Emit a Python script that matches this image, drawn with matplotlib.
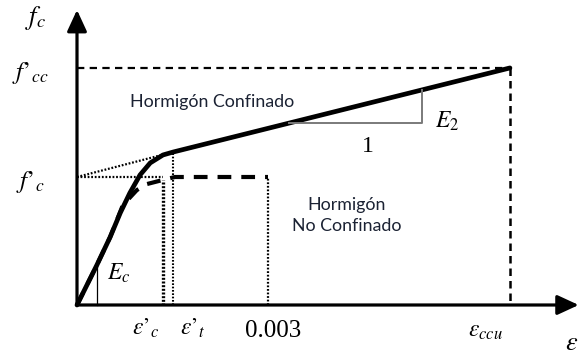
import matplotlib
matplotlib.use("Agg")
import matplotlib.pyplot as plt

plt.rcParams['mathtext.fontset'] = 'stix'

# ---- data (strain, stress normalised to f'c) ----
strain_conf = [0, 0.00031, 0.00052, 0.00068, 0.00083, 0.00099, 0.00115, 0.00135, 0.00151, 0.0068]
stress_conf = [0, 0.31, 0.53, 0.72, 0.875, 1.016, 1.11, 1.172, 1.195, 1.852]

strain_unconf = [0, 0.00031, 0.00052, 0.00072, 0.00094, 0.0011, 0.00135, 0.00154, 0.003]
stress_unconf = [0, 0.31, 0.53, 0.78, 0.898, 0.945, 0.977, 1.0, 1.0]

fc = 1.0
fcc = 1.852
eps_c = 0.00135
eps_t = 0.00151
eps_003 = 0.003
eps_ccu = 0.0068
f_t = 1.195

x_ticks = [eps_c, eps_t, eps_003, eps_ccu]
x_labels = [r"$\varepsilon’_c$", r"$\varepsilon’_t$", "0.003", r"$\varepsilon_{ccu}$"]
y_ticks = [fcc, fc]
y_labels = [r"$f’_{cc}$", r"$f’_c$"]

fig = plt.figure(figsize=(5.79, 3.58), dpi=100)
ax = fig.add_axes([0, 0, 1, 1])
ax.set_xlim(-0.0012094, 0.0078848)
ax.set_ylim(-0.4141, 2.3828)
ax.axis('off')

txtcol = '#1b2233'

# axes arrows
ax.annotate('', xy=(0, 2.305), xytext=(0, 0),
            arrowprops=dict(arrowstyle='-|>,head_length=0.65,head_width=0.3', lw=2.3,
                            color='black', mutation_scale=20, shrinkA=0, shrinkB=0))
ax.annotate('', xy=(0.00788, 0), xytext=(0, 0),
            arrowprops=dict(arrowstyle='-|>,head_length=0.65,head_width=0.3', lw=2.3,
                            color='black', mutation_scale=20, shrinkA=0, shrinkB=0))

# dashed reference lines at f'cc / eps_ccu
ax.plot([0, eps_ccu], [fcc, fcc], color='black', lw=1.6, dashes=(3.3, 2.4))
ax.plot([eps_ccu, eps_ccu], [fcc, 0], color='black', lw=1.8, dashes=(3.0, 2.0))

# dotted lines
ax.plot([0, eps_c], [fc, fc], color='black', lw=1.6, dashes=(0.8, 0.8))
ax.plot([0, eps_t], [fc, f_t], color='black', lw=1.6, dashes=(0.8, 0.8))
ax.plot([eps_c, eps_c], [0, 0.977], color='black', lw=2.4, dashes=(0.6, 0.5))
ax.plot([eps_t, eps_t], [0, f_t], color='black', lw=1.5, dashes=(0.8, 0.8))
ax.plot([eps_003, eps_003], [0, fc], color='black', lw=1.6, dashes=(0.8, 0.8))

# unconfined curve
ax.plot(strain_unconf, stress_unconf, color='black', lw=3.0, dashes=(3.3, 2.4),
        solid_joinstyle='round')

# confined curve
ax.plot(strain_conf, stress_conf, color='black', lw=3.4, solid_capstyle='round',
        solid_joinstyle='round')

# Ec triangle
ax.plot([0.000314, 0.000314], [0, 0.31], color='black', lw=0.9)

# E2 triangle
slope = (fcc - f_t) / (eps_ccu - eps_t)
xa, xb = 0.00333, 0.00542
ya = f_t + slope * (xa - eps_t)
yb = f_t + slope * (xb - eps_t)
ax.plot([xa, xb, xb], [ya, ya, yb], color='#7a7a7a', lw=1.4)

# labels (serif math)
ax.text(0.00066, 0.25, r"$E_c$", fontsize=17, ha='center', va='center')
ax.text(0.00581, 1.44, r"$E_2$", fontsize=17, ha='center', va='center')
ax.text(0.00457, 1.235, "1", fontsize=17, family='Liberation Serif', ha='center', va='center')

ax.text(-0.00065, 2.24, r"$f_c$", fontsize=19, ha='center', va='center')
for yv, lab in zip(y_ticks, y_labels):
    ax.text(-0.00073, yv - 0.04, lab, fontsize=18, ha='center', va='center')

x_label_pos = [(0.00108, -0.18), (0.00182, -0.18), (0.00308, -0.205), (0.00642, -0.195)]
for (xp, yp), lab in zip(x_label_pos, x_labels):
    if lab == "0.003":
        ax.text(xp, yp, lab, fontsize=18, family='Liberation Serif', ha='center', va='center')
    else:
        ax.text(xp, yp, lab, fontsize=17, ha='center', va='center')
ax.text(0.00787, -0.3, r"$\varepsilon$", fontsize=19, ha='right', va='center')

# sans annotations
ax.text(0.00083, 1.588, "Hormigón Confinado", fontsize=12.8, family='Lato', color=txtcol,
        ha='left', va='center')
ax.text(0.00423, 0.70, "Hormigón\nNo Confinado", fontsize=12.8, family='Lato', color=txtcol,
        ha='center', va='center', linespacing=1.4)

fig.savefig("out.png", dpi=100)
